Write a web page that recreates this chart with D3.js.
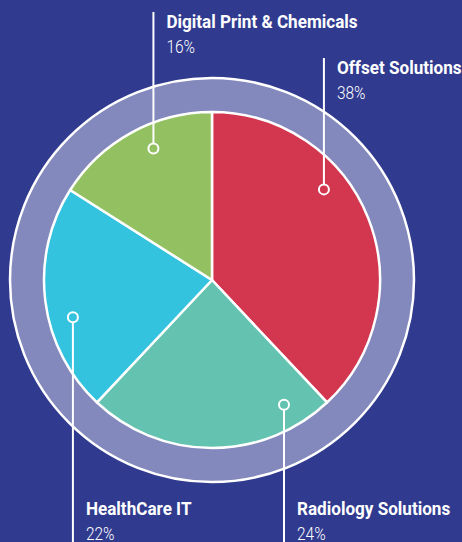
<!DOCTYPE html>
<html>
<head>
<meta charset="utf-8">
<script src="https://cdn.jsdelivr.net/npm/d3@7"></script>
<style>
  html, body { margin: 0; padding: 0; background: #303a8f; }
  svg { display: block; }
  .name, .pct { font-family: Roboto, "Noto Sans", sans-serif; fill: #fff; }
  .name { font-weight: bold; font-size: 19px; }
  .pct { font-weight: 300; font-size: 18px; }
</style>
</head>
<body>
<script>
// data
var segments = ['Offset Solutions', 'Radiology Solutions', 'HealthCare IT', 'Digital Print & Chemicals'];
var shares = [38, 24, 22, 16];
var colors = ['#d3364f', '#63c3b0', '#33c3df', '#93c162'];

// where each label marker sits on the pie (degrees clockwise from top) and where its text goes
var markerAngles = [51, 150, 255, 336];
var labelSide = ['top', 'bottom', 'bottom', 'top'];
var labelTopY = [58, 0, 0, 12];

window.document.addEventListener('DOMContentLoaded', init, false);

function init() {
    var width = 462, height = 542;
    var cx = 212, cy = 280;
    var innerR = 168, ringR = 202, markerR = 144;
    // the original uses a condensed face
    var condenseName = 0.9, condensePct = 0.86;

    var svg = d3.select('body').append('svg')
        .attr('width', width)
        .attr('height', height);

    var g = svg.append('g').attr('transform', `translate(${cx},${cy})`);

    // outer ring
    g.append('circle')
        .attr('r', ringR)
        .attr('fill', '#8389bc')
        .attr('stroke', '#fff')
        .attr('stroke-width', 2.5);

    var pie = d3.pie().sort(null).value((d) => d.value);
    var arc = d3.arc().innerRadius(0).outerRadius(innerR);

    var data = segments.map((s, i) => ({name: s, value: shares[i], color: colors[i]}));

    g.selectAll('.slice')
        .data(pie(data))
        .enter()
            .append('path')
            .attr('class', 'slice')
            .attr('d', arc)
            .attr('fill', (d) => d.data.color)
            .attr('stroke', '#fff')
            .attr('stroke-width', 2.5)
            .attr('stroke-linejoin', 'round');

    var rad = (a) => a * Math.PI / 180;
    data.forEach((d, i) => {
        var mx = cx + markerR * Math.sin(rad(markerAngles[i]));
        var my = cy - markerR * Math.cos(rad(markerAngles[i]));
        var y2 = labelSide[i] === 'top' ? labelTopY[i] : height;

        svg.append('line')
            .attr('x1', mx).attr('x2', mx)
            .attr('y1', labelSide[i] === 'top' ? my - 5 : my + 5)
            .attr('y2', y2)
            .attr('stroke', '#fff')
            .attr('stroke-width', 2);

        svg.append('circle')
            .attr('cx', mx).attr('cy', my)
            .attr('r', 5)
            .attr('fill', 'none')
            .attr('stroke', '#fff')
            .attr('stroke-width', 2);

        var tx = mx + 13;
        var baseY = labelSide[i] === 'top' ? y2 + 16 : height - 27;
        svg.append('text')
            .attr('class', 'name')
            .attr('transform', `translate(${tx},${baseY}) scale(${condenseName},1)`)
            .text(d.name);
        svg.append('text')
            .attr('class', 'pct')
            .attr('transform', `translate(${tx},${baseY + 25}) scale(${condensePct},1)`)
            .text(d.value + '%');
    });
}
</script>
</body>
</html>
